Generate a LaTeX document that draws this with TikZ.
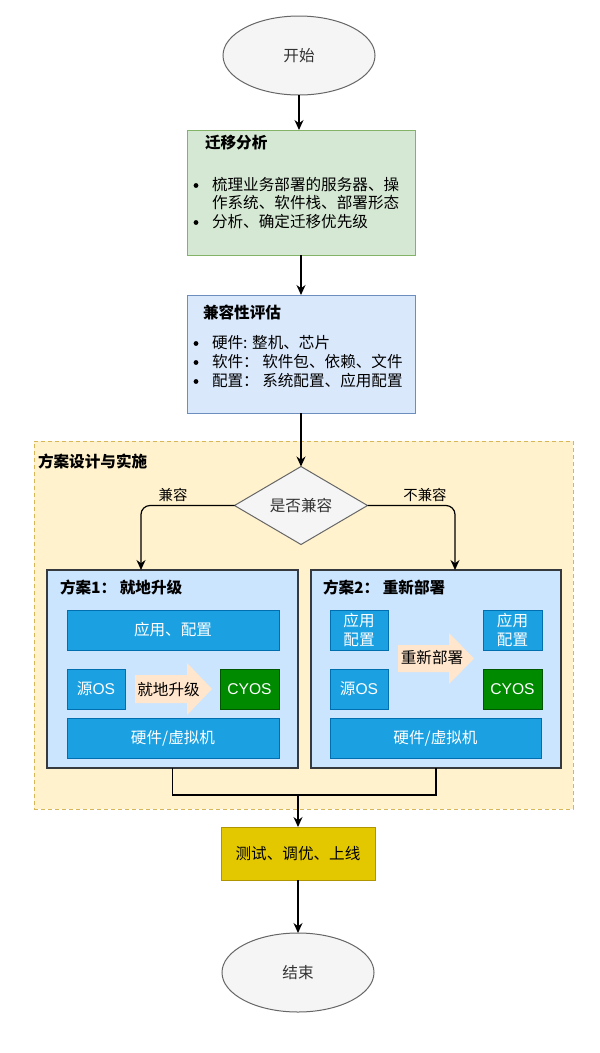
\documentclass[tikz,border=0pt]{standalone}
\usepackage{fontspec}
\setmainfont{Noto Sans CJK SC}
\newfontfamily\latinfont{Liberation Sans}
\usetikzlibrary{shapes.geometric,arrows.meta}
\definecolor{grayfill}{HTML}{F5F5F5}
\definecolor{graystroke}{HTML}{666666}
\definecolor{graytext}{HTML}{333333}
\definecolor{greenfill}{HTML}{D5E8D4}
\definecolor{greenstroke}{HTML}{82B366}
\definecolor{bluefill}{HTML}{DAE8FC}
\definecolor{bluestroke}{HTML}{6C8EBF}
\definecolor{yelfill}{HTML}{FFF2CC}
\definecolor{yelstroke}{HTML}{D6B656}
\definecolor{planfill}{HTML}{CCE5FF}
\definecolor{planstroke}{HTML}{36393D}
\definecolor{innerfill}{HTML}{1BA1E2}
\definecolor{innerstroke}{HTML}{006EAF}
\definecolor{peach}{HTML}{FFE6CC}
\definecolor{osfill}{HTML}{008A00}
\definecolor{osstroke}{HTML}{005700}
\definecolor{testfill}{HTML}{E3C800}
\definecolor{teststroke}{HTML}{B09500}
\newcommand{\lat}[1]{{\latinfont #1}}
\tikzset{
  base/.style={inner sep=0pt, outer sep=0pt, font=\fontsize{15.6}{19.5}\selectfont},
  oval/.style={base, ellipse, draw=graystroke, fill=grayfill, text=graytext, line width=1pt},
  stage/.style={base, rectangle, line width=1pt},
  plan/.style={base, rectangle, draw=planstroke, fill=planfill, line width=1.2pt},
  inner/.style={base, rectangle, draw=innerstroke, fill=innerfill, text=white, line width=0.6pt, align=center},
  osbox/.style={base, rectangle, draw=osstroke, fill=osfill, text=white, line width=0.6pt},
  txt/.style={base, anchor=west},
  btxt/.style={base, anchor=west, font=\fontsize{15.6}{19.5}\selectfont\bfseries},
  lbl/.style={base, font=\fontsize{14.4}{17}\selectfont},
  bulletdot/.style={fill=black},
  flow/.style={line width=1.2pt, -{Stealth[length=10pt,width=9pt]}},
  link/.style={line width=1.2pt}
}
\begin{document}
\begin{tikzpicture}[x=1pt,y=-1pt]
\useasboundingbox (0,0) rectangle (600,1053);
\fill[white] (0,0) rectangle (600,1053);

% start
\node[oval, minimum width=152pt, minimum height=79pt] (start) at (299,55.5) {开始};

% migration analysis
\node[stage, draw=greenstroke, fill=greenfill, minimum width=228pt, minimum height=125pt] (ana) at (301,192.5) {};
\node[btxt] (anat) at (205,143) {迁移分析};
\fill[bulletdot] (196,185.5) circle (2.4);
\node[txt] (ana1) at (212,185) {梳理业务部署的服务器、操};
\node[txt] (ana2) at (212,203) {作系统、软件栈、部署形态};
\fill[bulletdot] (196,222.5) circle (2.4);
\node[txt] (ana3) at (212,222) {分析、确定迁移优先级};

% compatibility
\node[stage, draw=bluestroke, fill=bluefill, minimum width=228pt, minimum height=118pt] (cmp) at (301,354) {};
\node[btxt] (cmpt) at (203,312) {兼容性评估};
\fill[bulletdot] (196,343.5) circle (2.4);
\node[txt] (cmp1) at (212,343) {硬件: 整机、芯片};
\fill[bulletdot] (196,362.5) circle (2.4);
\node[txt] (cmp2) at (212,362) {软件： 软件包、依赖、文件};
\fill[bulletdot] (196,381.5) circle (2.4);
\node[txt] (cmp3) at (212,381) {配置： 系统配置、应用配置};

% container
\node[base, rectangle, draw=yelstroke, fill=yelfill, line width=1pt, dash pattern=on 4pt off 3pt, minimum width=539pt, minimum height=368pt] (cont) at (303.5,625) {};
\node[btxt] (contt) at (38,461) {方案设计与实施};

% decision
\node[base, diamond, draw=graystroke, fill=grayfill, text=graytext, line width=1pt, minimum width=133pt, minimum height=78pt] (dia) at (301,505.5) {是否兼容};

% plans
\node[plan, minimum width=251pt, minimum height=198pt] (p1) at (172.5,669) {};
\node[plan, minimum width=250pt, minimum height=198pt] (p2) at (436,669) {};
\node[btxt] (p1t) at (60,587) {方案1： 就地升级};
\node[btxt] (p2t) at (323,587) {方案2： 重新部署};

% plan 1 inner
\node[inner, minimum width=212pt, minimum height=40pt] (a1) at (173,630) {应用、配置};
\node[inner, minimum width=58pt, minimum height=40pt] (s1) at (96,689) {源\lat{OS}};
\fill[peach] (135,675) -- (187,675) -- (187,663) -- (212,689) -- (187,715) -- (187,703) -- (135,703) -- cycle;
\node[base] (u1) at (168.5,689.5) {就地升级};
\node[osbox, minimum width=59pt, minimum height=40pt] (c1) at (249.5,689) {\lat{CYOS}};
\node[inner, minimum width=212pt, minimum height=40pt] (h1) at (173,738) {硬件/虚拟机};

% plan 2 inner
\node[inner, minimum width=58pt, minimum height=40pt] (a2l) at (359,630) {应用\\配置};
\node[inner, minimum width=58pt, minimum height=40pt] (s2) at (359,689) {源\lat{OS}};
\fill[peach] (398,645) -- (449,645) -- (449,633) -- (474,658.5) -- (449,684) -- (449,672) -- (398,672) -- cycle;
\node[base] (u2) at (432,658) {重新部署};
\node[inner, minimum width=59pt, minimum height=40pt] (a2r) at (512.5,630) {应用\\配置};
\node[osbox, minimum width=59pt, minimum height=40pt] (c2) at (512.5,689) {\lat{CYOS}};
\node[inner, minimum width=211pt, minimum height=40pt] (h2) at (435.5,738) {硬件/虚拟机};

% test and end
\node[stage, draw=teststroke, fill=testfill, minimum width=154pt, minimum height=53pt] (test) at (298,853.5) {测试、调优、上线};
\node[oval, minimum width=152pt, minimum height=79pt] (end) at (298,972.5) {结束};

% connectors
\coordinate (in1) at (141,570);
\coordinate (in2) at (455,570);
\coordinate (merge) at (298,795);
\draw[flow] (start) -- (start |- ana.north);
\draw[flow] (ana.south -| cmp.north) -- (cmp.north);
\draw[flow] (cmp.south) -- (dia.north);
\draw[flow, rounded corners=9pt] (dia.west) -| (in1);
\draw[flow, rounded corners=9pt] (dia.east) -| (in2);
\node[lbl] (l1) at (173,495) {兼容};
\node[lbl] (l2) at (425,495) {不兼容};
\draw[link] (p1.south) |- (merge) -| (p2.south);
\draw[flow] (merge) -- (test.north);
\draw[flow] (test.south) -- (end.north);
\end{tikzpicture}
\end{document}
